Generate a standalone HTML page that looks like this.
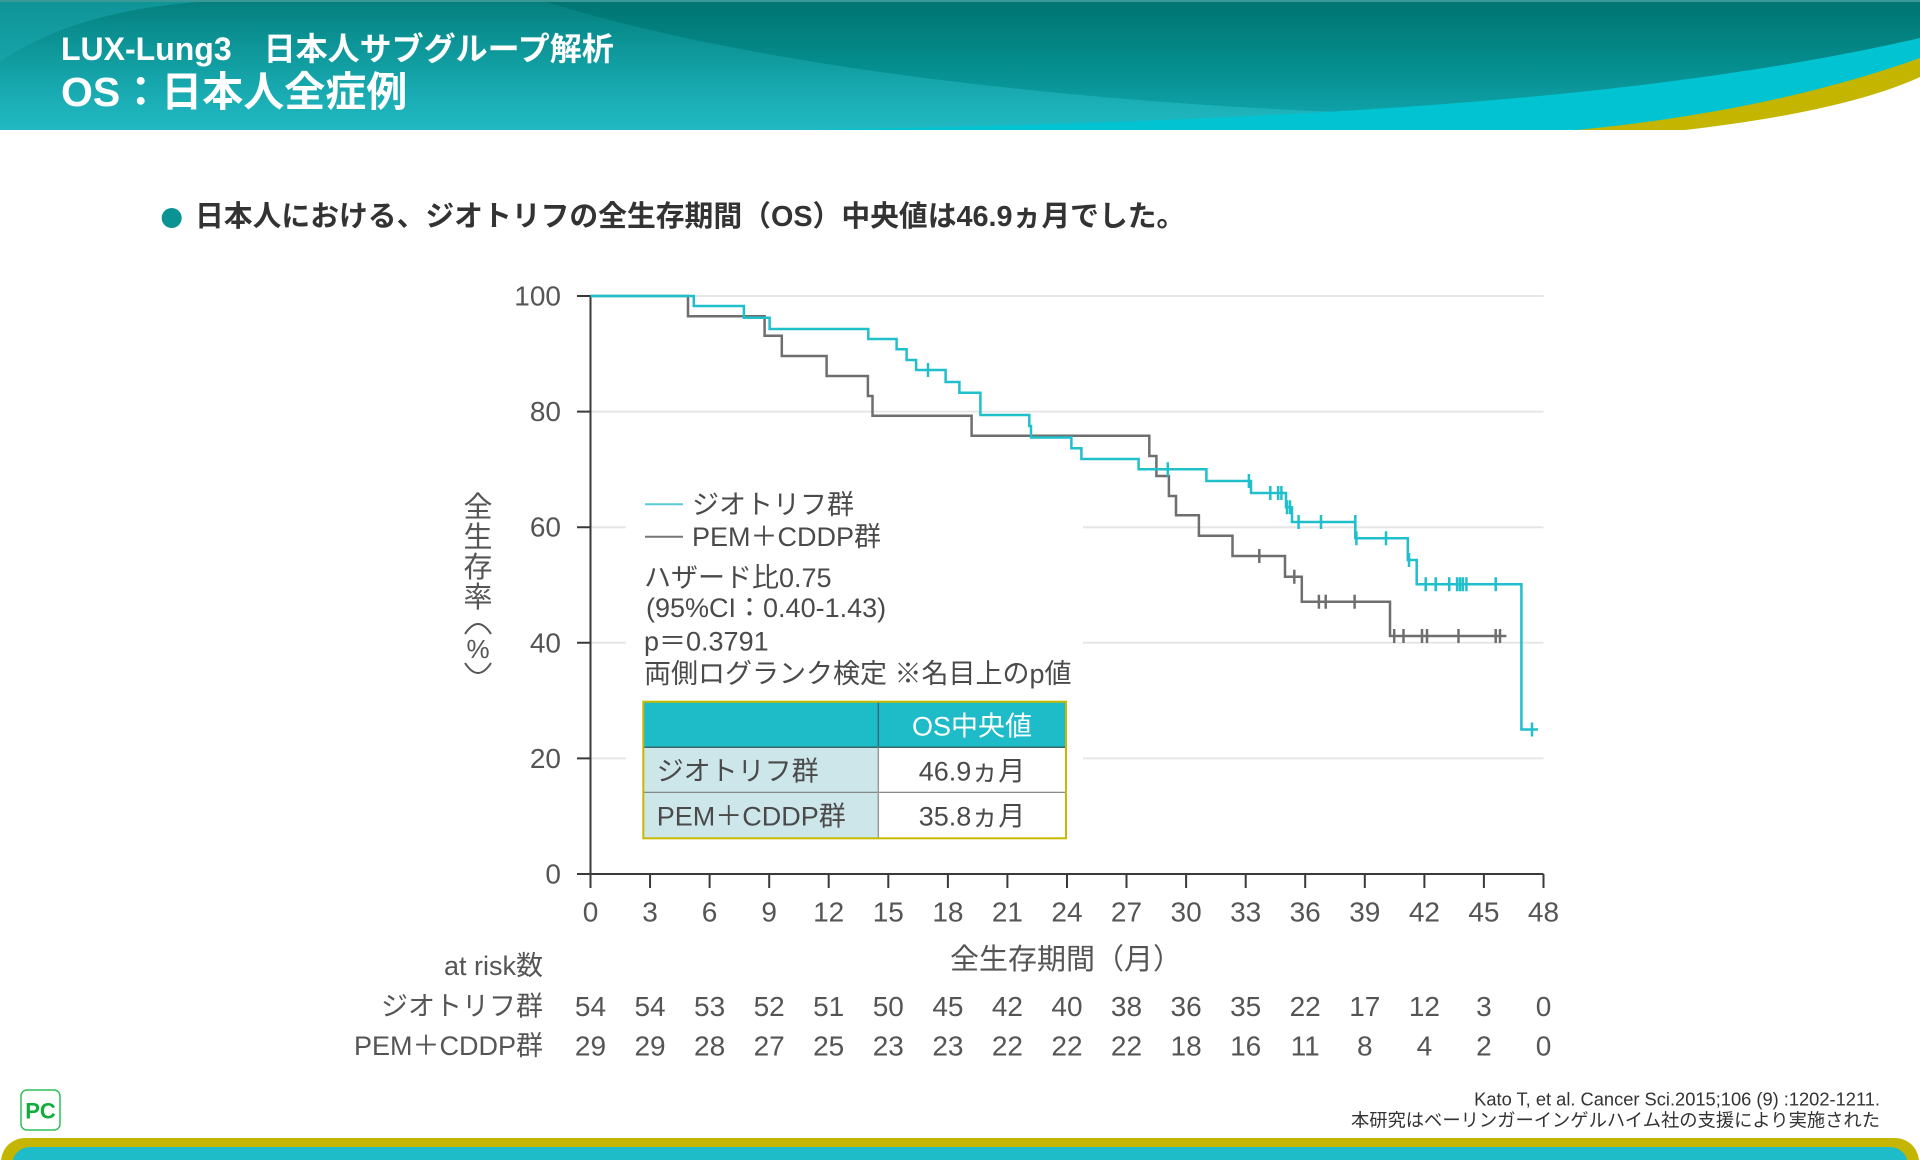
<!DOCTYPE html>
<html><head><meta charset="utf-8">
<style>
html,body{margin:0;padding:0;background:#fff;}
body{width:1920px;height:1160px;overflow:hidden;position:relative;}
svg{display:block;font-family:"Liberation Sans","Noto Sans CJK JP",sans-serif;}
</style></head>
<body>
<svg width="1920" height="1160" viewBox="0 0 1920 1160" xmlns="http://www.w3.org/2000/svg">
<defs>
<linearGradient id="bg" x1="0" y1="0" x2="0" y2="1">
<stop offset="0" stop-color="#007471"/>
<stop offset="0.5" stop-color="#058d8d"/>
<stop offset="1" stop-color="#12a9b2"/>
</linearGradient>
<linearGradient id="sw" x1="0" y1="0" x2="0" y2="1">
<stop offset="0" stop-color="#1fb3bd" stop-opacity="0.15"/>
<stop offset="1" stop-color="#2cc3cc" stop-opacity="0.6"/>
</linearGradient>
</defs>
<!-- header banner -->
<rect x="0" y="0" width="1920" height="130" fill="url(#bg)"/>
<path d="M540,0 C760,70 1150,118 1600,117 L1600,130 L0,130 L0,0 Z" fill="url(#sw)"/>
<path d="M0,62 C60,20 140,4 230,0 L0,0 Z" fill="#1aa9b2" opacity="0.5"/>
<rect x="0" y="0" width="1920" height="2" fill="#3a9896"/>
<path d="M800,130 C1300,121 1650,100 1920,38 L1920,130 Z" fill="#02c3d1"/>
<path d="M1577,130 C1720,116 1830,90 1920,58 L1920,130 Z" fill="#c4b500"/>
<path d="M1681,130.5 C1790,118 1870,100 1920,77 L1920,130.5 Z" fill="#ffffff"/>
<text x="61" y="49" font-size="32" font-weight="bold" fill="#ffffff" dominant-baseline="central">LUX-Lung3　日本人サブグループ解析</text>
<text x="61" y="92" font-size="41" font-weight="bold" fill="#ffffff" dominant-baseline="central">OS：日本人全症例</text>

<!-- bullet -->
<circle cx="171.7" cy="218" r="10" fill="#0b9292"/>
<text x="195" y="217" font-size="28.8" font-weight="bold" fill="#333333" dominant-baseline="central">日本人における、ジオトリフの全生存期間（OS）中央値は46.9ヵ月でした。</text>

<!-- gridlines -->
<g stroke="#e6e6e6" stroke-width="2" fill="none">
<path d="M590.5,296 H1543.5"/>
<path d="M590.5,411.6 H1543.5"/>
<path d="M590.5,527.2 H626 M1083,527.2 H1543.5"/>
<path d="M590.5,642.8 H626 M1083,642.8 H1543.5"/>
<path d="M590.5,758.4 H626 M1083,758.4 H1543.5"/>
</g>

<!-- axes -->
<g stroke="#3a3a3a" stroke-width="2" fill="none">
<path d="M590.5,296 V874 H1543.5"/>
<path d="M577,296 H590.5 M577,411.6 H590.5 M577,527.2 H590.5 M577,642.8 H590.5 M577,758.4 H590.5 M577,874 H590.5"/>
<path d="M590.5,874 V888 M650.06,874 V888 M709.6,874 V888 M769.2,874 V888 M828.7,874 V888 M888.3,874 V888 M947.9,874 V888 M1007.4,874 V888 M1067,874 V888 M1126.5,874 V888 M1186.1,874 V888 M1245.7,874 V888 M1305.2,874 V888 M1364.8,874 V888 M1424.4,874 V888 M1483.9,874 V888 M1543.5,874 V888"/>
</g>

<!-- y labels -->
<g font-size="28" fill="#555555" text-anchor="end" dominant-baseline="central">
<text x="561" y="296">100</text>
<text x="561" y="411.6">80</text>
<text x="561" y="527.2">60</text>
<text x="561" y="642.8">40</text>
<text x="561" y="758.4">20</text>
<text x="561" y="874">0</text>
</g>
<!-- y title -->
<g font-size="29" fill="#555555" text-anchor="middle" dominant-baseline="central">
<text x="478" y="508">全</text>
<text x="478" y="538">生</text>
<text x="478" y="568">存</text>
<text x="478" y="598">率</text>
<text x="478" y="649" font-size="26">%</text>
</g>
<path d="M465,634 Q478,614 491,634" stroke="#555555" stroke-width="2" fill="none"/>
<path d="M465,663 Q478,683 491,663" stroke="#555555" stroke-width="2" fill="none"/>

<!-- x labels -->
<g font-size="28" fill="#555555" text-anchor="middle" dominant-baseline="central">
<text x="590.5" y="912">0</text>
<text x="650.06" y="912">3</text>
<text x="709.6" y="912">6</text>
<text x="769.2" y="912">9</text>
<text x="828.7" y="912">12</text>
<text x="888.3" y="912">15</text>
<text x="947.9" y="912">18</text>
<text x="1007.4" y="912">21</text>
<text x="1067" y="912">24</text>
<text x="1126.5" y="912">27</text>
<text x="1186.1" y="912">30</text>
<text x="1245.7" y="912">33</text>
<text x="1305.2" y="912">36</text>
<text x="1364.8" y="912">39</text>
<text x="1424.4" y="912">42</text>
<text x="1483.9" y="912">45</text>
<text x="1543.5" y="912">48</text>
</g>
<text x="1066" y="960" font-size="29" fill="#555555" text-anchor="middle" dominant-baseline="central">全生存期間（月）</text>

<!-- at risk -->
<g font-size="27" fill="#555555" text-anchor="end" dominant-baseline="central">
<text x="543" y="966">at risk数</text>
<text x="543" y="1006.5">ジオトリフ群</text>
<text x="543" y="1046">PEM＋CDDP群</text>
</g>
<g font-size="28" fill="#555555" text-anchor="middle" dominant-baseline="central">
<text x="590.5" y="1006.5">54</text><text x="650.06" y="1006.5">54</text><text x="709.6" y="1006.5">53</text><text x="769.2" y="1006.5">52</text><text x="828.7" y="1006.5">51</text><text x="888.3" y="1006.5">50</text><text x="947.9" y="1006.5">45</text><text x="1007.4" y="1006.5">42</text><text x="1067" y="1006.5">40</text><text x="1126.5" y="1006.5">38</text><text x="1186.1" y="1006.5">36</text><text x="1245.7" y="1006.5">35</text><text x="1305.2" y="1006.5">22</text><text x="1364.8" y="1006.5">17</text><text x="1424.4" y="1006.5">12</text><text x="1483.9" y="1006.5">3</text><text x="1543.5" y="1006.5">0</text>
<text x="590.5" y="1046">29</text><text x="650.06" y="1046">29</text><text x="709.6" y="1046">28</text><text x="769.2" y="1046">27</text><text x="828.7" y="1046">25</text><text x="888.3" y="1046">23</text><text x="947.9" y="1046">23</text><text x="1007.4" y="1046">22</text><text x="1067" y="1046">22</text><text x="1126.5" y="1046">22</text><text x="1186.1" y="1046">18</text><text x="1245.7" y="1046">16</text><text x="1305.2" y="1046">11</text><text x="1364.8" y="1046">8</text><text x="1424.4" y="1046">4</text><text x="1483.9" y="1046">2</text><text x="1543.5" y="1046">0</text>
</g>

<!-- grey curve -->
<g stroke="#6e6e6e" stroke-width="2.5" fill="none">
<path d="M590.5,296 H688 V316.3 H764.6 V335.7 H781.8 V356 H826.6 V376 H867.9 V396 H872.5 V415.7 H971.6 V435.7 H1149.3 V456 H1156.4 V476 H1168.9 V496 H1176 V515.3 H1198.9 V535.7 H1232.5 V556 H1285 V576.7 H1301.8 V601.7 H1390 V636 H1506.4"/>
<path d="M1259.3,549 V563 M1294.3,569.7 V583.7 M1318.9,594.7 V608.7 M1325.7,594.7 V608.7 M1354.6,594.7 V608.7 M1394.2,629 V643 M1403.5,629 V643 M1422,629 V643 M1427,629 V643 M1458.5,629 V643 M1495.7,629 V643 M1500,629 V643"/>
</g>
<!-- teal curve -->
<g stroke="#1fbfcc" stroke-width="2.5" fill="none">
<path d="M590.5,296 H693.8 V306 H743.9 V317.7 H769.6 V329 H868.3 V339 H896.6 V349.3 H906.6 V360 H916.1 V370 H945.6 V382 H959.4 V392.7 H980.4 V415 H1029.3 V426 H1031 V437.5 H1071.4 V448.3 H1081.4 V459 H1138.6 V469.3 H1206.4 V481 H1251 V493 H1286 V507.3 H1292 V522 H1355.3 V538.3 H1407.8 V560 H1416.7 V584.3 H1521.4 V729.5 H1538"/>
<path d="M928,363 V377 M1167.8,462.3 V476.3 M1248.9,474 V488 M1270.3,486 V500 M1278.2,486 V500 M1281.4,486 V500 M1287,500.3 V514.3 M1290,500.3 V514.3 M1298.6,515 V529 M1321,515 V529 M1355.3,515 V529 M1356.4,531.3 V545.3 M1386,531.3 V545.3 M1409,553 V567 M1425.7,577.3 V591.3 M1435.7,577.3 V591.3 M1449.2,577.3 V591.3 M1457.1,577.3 V591.3 M1460,577.3 V591.3 M1462.8,577.3 V591.3 M1466.4,577.3 V591.3 M1495.7,577.3 V591.3 M1532,722.5 V736.5"/>
</g>

<!-- legend -->
<path d="M645,504.3 H683" stroke="#5ccbd8" stroke-width="2"/>
<path d="M645,536.7 H683" stroke="#777777" stroke-width="2"/>
<g font-size="27" fill="#4a4a4a" dominant-baseline="central">
<text x="692" y="505">ジオトリフ群</text>
<text x="692" y="537">PEM＋CDDP群</text>
<text x="644" y="578">ハザード比0.75</text>
<text x="646" y="608">(95%CI：0.40-1.43)</text>
<text x="644" y="641.7">p＝0.3791</text>
<text x="644" y="674">両側ログランク検定 ※名目上のp値</text>
</g>

<!-- table -->
<rect x="643.3" y="701.7" width="422.7" height="45.6" fill="#1ebcc8"/>
<rect x="643.3" y="747.3" width="235" height="91" fill="#cde6ea"/>
<rect x="878.3" y="747.3" width="187.7" height="91" fill="#ffffff"/>
<path d="M643.3,747.3 H1066" stroke="#35686c" stroke-width="1.5"/>
<path d="M643.3,792.3 H1066" stroke="#7a7a7a" stroke-width="1.2"/>
<path d="M878.3,701.7 V747.3" stroke="#2f6f74" stroke-width="1.5"/>
<path d="M878.3,747.3 V838.3" stroke="#9a9a9a" stroke-width="1.5"/>
<rect x="643.3" y="701.7" width="422.7" height="136.6" fill="none" stroke="#c9b800" stroke-width="2"/>
<g font-size="27" dominant-baseline="central">
<text x="972" y="726.7" fill="#ffffff" text-anchor="middle">OS中央値</text>
<text x="656.7" y="771.7" fill="#4a4a4a">ジオトリフ群</text>
<text x="656.7" y="816.7" fill="#4a4a4a">PEM＋CDDP群</text>
<text x="972" y="771.7" fill="#4a4a4a" text-anchor="middle">46.9ヵ月</text>
<text x="972" y="816.7" fill="#4a4a4a" text-anchor="middle">35.8ヵ月</text>
</g>

<!-- footer citation -->
<g font-size="18.3" fill="#333333" text-anchor="end" dominant-baseline="central">
<text x="1880" y="1099">Kato T, et al. Cancer Sci.2015;106 (9) :1202-1211.</text>
<text x="1880" y="1120">本研究はベーリンガーインゲルハイム社の支援により実施された</text>
</g>

<!-- logo -->
<rect x="21" y="1090" width="39" height="40" rx="6" fill="#ffffff" stroke="#2fbf5a" stroke-width="1.5"/>
<text x="40.5" y="1111" font-size="22" font-weight="bold" fill="#0fae3c" text-anchor="middle" dominant-baseline="central">PC</text>

<!-- bottom band -->
<rect x="1" y="1138" width="1918" height="60" rx="24" fill="#c4b500"/>
<rect x="12" y="1147" width="1896" height="60" rx="18" fill="#1ebcc8"/>
</svg>
</body></html>
